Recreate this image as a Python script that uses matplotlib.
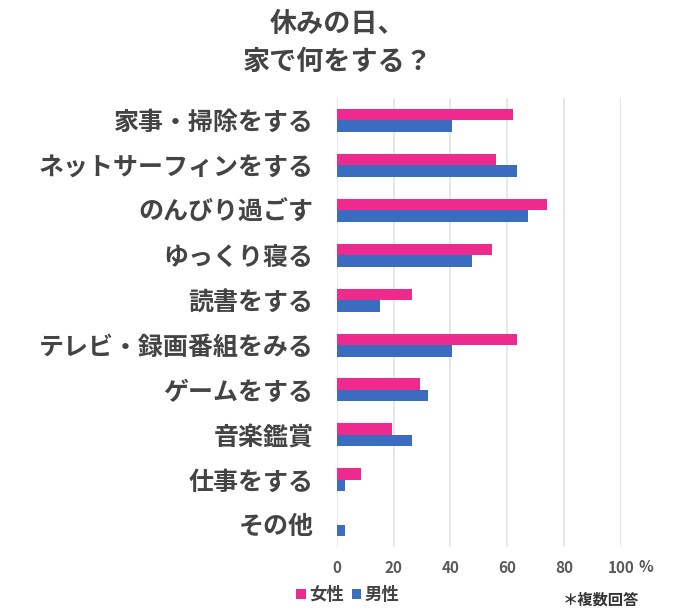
import matplotlib

matplotlib.use("Agg")

import matplotlib.pyplot as plt  # noqa: E402
import numpy as np  # noqa: E402

plt.rcParams["font.family"] = ["Noto Sans CJK JP", "DejaVu Sans"]

# 休日の過ごし方（複数回答、%）
categories = [
    "家事・掃除をする",
    "ネットサーフィンをする",
    "のんびり過ごす",
    "ゆっくり寝る",
    "読書をする",
    "テレビ・録画番組をみる",
    "ゲームをする",
    "音楽鑑賞",
    "仕事をする",
    "その他",
]
female = [62, 56, 74, 54.7, 26.5, 63.4, 29.2, 19.4, 8.4, 0]
male = [40.6, 63.5, 67.5, 47.6, 15.2, 40.6, 32.2, 26.5, 2.7, 2.7]
xticks = [0, 20, 40, 60, 80, 100]

PINK = "#ee2a8e"
BLUE = "#3a6dc0"
TEXT = "#444444"
TICK = "#595959"

fig = plt.figure(figsize=(7.0, 6.11), dpi=100)
ax = fig.add_axes([0.4814, 0.1044, 0.4053, 0.7352])

y = np.arange(len(categories))
h = 0.256
bf = ax.barh(y - h / 2, female, height=h, color=PINK, label="女性")
bm = ax.barh(y + h / 2, male, height=h, color=BLUE, label="男性")

ax.set_xlim(0, 100)
ax.set_ylim(len(categories) - 0.5, -0.5)
ax.set_xticks(xticks)
ax.set_xticklabels([str(t) for t in xticks], fontsize=11, fontweight="bold", color=TICK)
ax.set_yticks(y)
ax.set_yticklabels(categories, fontsize=18, fontweight="bold", color=TEXT)
ax.tick_params(axis="y", length=0, pad=17)
ax.tick_params(axis="x", length=0, pad=9)
ax.grid(True, axis="x", color="#e3e3e3", linewidth=1.2)
ax.set_axisbelow(True)
for side in ax.spines.values():
    side.set_visible(False)

fig.text(646 / 700, 1 - 567 / 611, "%", fontsize=11, fontweight="bold",
         color=TICK, ha="center", va="center")

fig.text(338 / 700, 1 - 43 / 611, "休みの日、\n家で何をする？", fontsize=19.5,
         fontweight="bold", color=TEXT, ha="center", va="center", linespacing=1.45)

fig.legend(handles=[bf, bm], loc="center left", bbox_to_anchor=(284 / 700, 1 - 595 / 611),
           ncol=2, frameon=False, handlelength=0.55, handleheight=0.55, handletextpad=0.2,
           columnspacing=0.45, borderpad=0.2, prop={"size": 12.5, "weight": "bold"},
           labelcolor=TEXT)

fig.text(601 / 700, 1 - 600 / 611, "＊複数回答", fontsize=11, fontweight="bold",
         color="#333333", ha="center", va="center")

fig.savefig("out.png", dpi=100)
